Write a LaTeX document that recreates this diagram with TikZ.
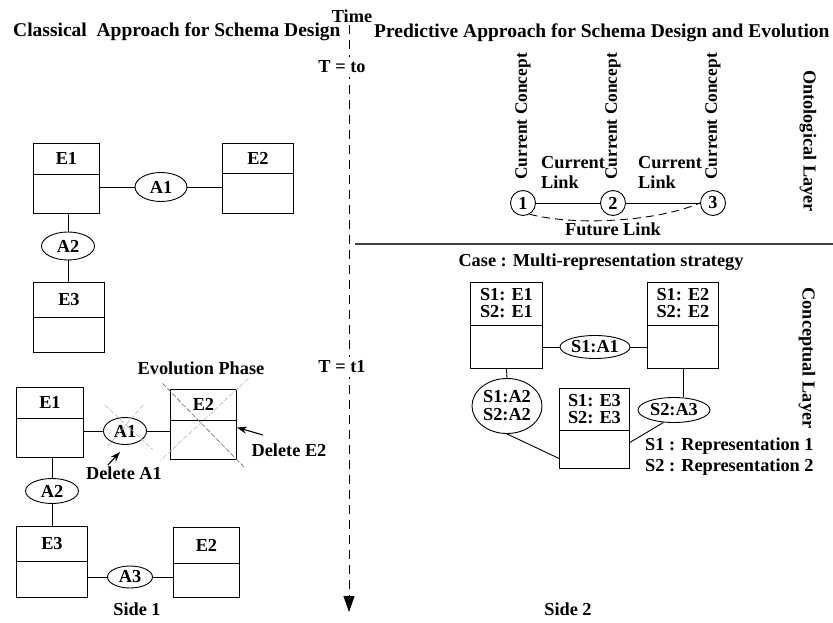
\documentclass[tikz,border=0pt]{standalone}
\usepackage{fontspec}
\setmainfont{Liberation Serif}
\usetikzlibrary{arrows.meta,positioning,calc,shapes.geometric}

\tikzset{
  lbl/.style={font=\fontsize{18.3}{20}\selectfont\bfseries, inner sep=1pt},
  headlbl/.style={font=\fontsize{19.5}{22}\selectfont\bfseries, inner sep=0pt},
  tlbl/.style={lbl, fill=white, inner sep=4pt},
  entbox/.style={draw, line width=0.9pt},
  relnode/.style={ellipse, draw, line width=0.9pt, inner sep=0pt, align=center,
    font=\fontsize{18.3}{20}\selectfont\bfseries},
  conceptdot/.style={circle, draw, line width=0.9pt, minimum size=25pt, inner sep=0pt,
    font=\fontsize{18.3}{20}\selectfont\bfseries},
  link/.style={line width=0.9pt},
  futlink/.style={line width=0.9pt, dash pattern=on 8pt off 5pt},
  timeline/.style={line width=0.9pt, dash pattern=on 9pt off 6pt,
    -{Triangle[length=16pt,width=11pt]}},
  arr/.style={line width=1.1pt, -{Stealth[length=10pt,width=7pt]}},
  strike/.style={draw=gray!55, line width=0.6pt, dash pattern=on 5pt off 2pt},
  rulebar/.style={line width=1.4pt, draw=black!75}
}

% entity box: name, x, y (top left), width, height, header depth, title
\newcommand{\erentity}[7]{%
  \node[entbox, minimum width=#4pt, minimum height=#5pt, anchor=north west] (#1) at (#2,#3) {};
  \coordinate (#1-div) at ([yshift=-#6pt]#1.north west);
  \draw[link] (#1-div) -- (#1-div -| #1.east);
  \node[lbl, align=left] (#1-title) at ($(#1.north)!0.5!(#1-div -| #1.north)$) {#7};
}

\begin{document}
\begin{tikzpicture}[x=1pt,y=-1pt]
  \path[use as bounding box, fill=white] (0,0) rectangle (833,623);

  % headings
  \node[headlbl, anchor=base west] (hclass) at (13,37) {Classical\ \ Approach for Schema Design};
  \node[headlbl, anchor=base west] (hpred) at (374,38) {Predictive Approach for Schema Design and Evolution};

  % time axis
  \coordinate (ttop) at (349,25);
  \coordinate (tbot) at (349,612);
  \draw[timeline] (ttop) -- (tbot);
  \node[lbl, anchor=base] (time) at (352,23) {Time};
  \node[tlbl] (tzero) at (342,67) {T = to};
  \node[tlbl] (tone) at (342,367) {T = t1};

  % layer separator and titles
  \coordinate (sepl) at (355,244);
  \coordinate (sepr) at (833,244);
  \draw[rulebar] (sepl) -- (sepr);
  \node[lbl, rotate=-90] (ontol) at (808,141) {Ontological Layer};
  \node[lbl, rotate=-90] (concl) at (807,358) {Conceptual Layer};

  % ontological layer
  \node[conceptdot] (c1) at (523,203) {1};
  \node[conceptdot] (c2) at (613,203) {2};
  \node[conceptdot] (c3) at (713,203) {3};
  \draw[link] (c1) -- (c2);
  \draw[link] (c2) -- (c3);
  \draw[futlink] (c1.-60) .. controls (575,226) and (655,222) .. (c3.west);
  \foreach \c in {c1,c2,c3}
    \node[lbl, font=\fontsize{17.4}{20}\selectfont\bfseries, rotate=90, anchor=west, inner sep=0pt]
      (\c-name) at ([yshift=10pt]\c.north) {Current Concept};
  \node[lbl, align=left, anchor=north west] (cl1) at (540,155) {Current\\Link};
  \node[lbl, align=left, anchor=north west] (cl2) at (637,155) {Current\\Link};
  \node[lbl] (fut) at (613,229) {Future Link};

  % conceptual layer
  \node[lbl] (case) at (601,262) {Case : Multi-representation strategy};
  \erentity{se1}{470}{282}{72}{86}{43}{S1: E1\\[-3pt]S2: E1}
  \erentity{se2}{647}{282}{71}{86}{43}{S1: E2\\[-3pt]S2: E2}
  \erentity{se3}{559}{388}{70}{80}{42}{S1: E3\\[-3pt]S2: E3}
  \node[relnode, minimum width=70pt, minimum height=23pt] (sa1) at (595,347) {S1:A1};
  \node[relnode, minimum width=70pt, minimum height=55pt] (sa2) at (507,406) {S1:A2\\[-2pt]S2:A2};
  \node[relnode, minimum width=72pt, minimum height=25pt] (sa3) at (674,410) {S2:A3};
  \draw[link] (sa1.west) -- (sa1.west -| se1.east);
  \draw[link] (sa1.east) -- (sa1.east -| se2.west);
  \draw[link] (se1.south) -- (sa2.north);
  \draw[link] (se2.south) -- (se2.south |- sa3.north);
  \draw[link] (sa2.south) -- ([yshift=-30pt]se3.west);
  \draw[link] (sa3.-130) -- ([yshift=-14pt]se3.east);
  \node[lbl, align=left, anchor=north west] (legend) at (644,437) {S1 : Representation 1\\[1pt]S2 : Representation 2};
  \node[lbl] (side2) at (568,609) {Side 2};

  % classical approach, schema at t0
  \erentity{e1}{33}{143}{66}{70}{31}{E1}
  \erentity{e2}{222}{143}{71}{70}{30}{E2}
  \erentity{e3}{33}{282}{71}{70}{35}{E3}
  \node[relnode, minimum width=52pt, minimum height=29pt] (a1) at (161,187) {A1};
  \node[relnode, minimum width=53pt, minimum height=28pt] (a2) at (68,246) {A2};
  \draw[link] (a1.west) -- (a1.west -| e1.east);
  \draw[link] (a1.east) -- (a1.east -| e2.west);
  \draw[link] (a2.north) -- (a2.north |- e1.south);
  \draw[link] (a2.south) -- (a2.south |- e3.north);

  % classical approach, schema after evolution
  \node[lbl] (evol) at (201,368) {Evolution Phase};
  \erentity{e1x}{16}{387}{67}{70}{31}{E1}
  \erentity{e2x}{170}{389}{66}{70}{31}{E2}
  \erentity{e3x}{16}{526}{71}{71}{35}{E3}
  \erentity{e2y}{173}{527}{66}{70}{36}{E2}
  \node[relnode, minimum width=43pt, minimum height=27pt] (a1x) at (125,431) {A1};
  \node[relnode, minimum width=53pt, minimum height=25pt] (a2x) at (52,491) {A2};
  \node[relnode, minimum width=45pt, minimum height=22pt] (a3x) at (130,577) {A3};
  \draw[link] (a1x.west) -- (a1x.west -| e1x.east);
  \draw[link] (a1x.east) -- (a1x.east -| e2x.west);
  \draw[link] (a2x.north) -- (a2x.north |- e1x.south);
  \draw[link] (a2x.south) -- (a2x.south |- e3x.north);
  \draw[link] (a3x.west) -- (a3x.west -| e3x.east);
  \draw[link] (a3x.east) -- (a3x.east -| e2y.west);

  % struck out relation and entity
  \draw[strike] ([shift={(-20,-26)}]a1x.center) -- ([shift={(28,19)}]a1x.center);
  \draw[strike] ([shift={(18,-26)}]a1x.center) -- ([shift={(-18,16)}]a1x.center);
  \draw[strike, draw=black!60] ([shift={(-41,-41)}]e2x.center) -- ([shift={(42,44)}]e2x.center);
  \draw[strike] ([shift={(45,-46)}]e2x.center) -- ([shift={(-43,36)}]e2x.center);

  \node[lbl] (dele2) at (289,450) {Delete E2};
  \node[lbl] (dela1) at (124,473) {Delete A1};
  \draw[arr] ([shift={(-26,-15)}]dele2.center) -- ([yshift=-3pt]e2x.east);
  \draw[arr] ([shift={(-16,-8)}]dela1.center) -- ([shift={(-5,7)}]a1x.south);

  \node[lbl] (side1) at (137,609) {Side 1};
\end{tikzpicture}
\end{document}
